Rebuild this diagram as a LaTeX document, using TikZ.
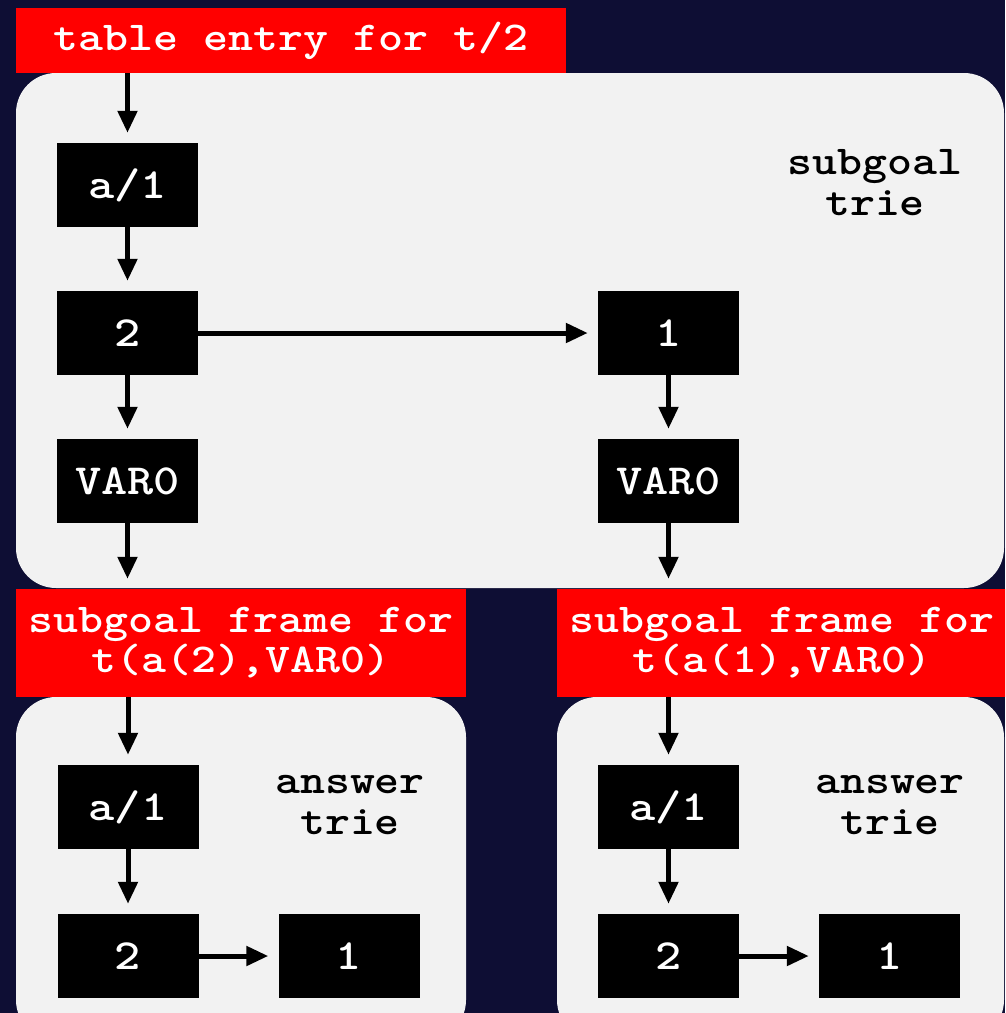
\documentclass[tikz,border=0pt]{standalone}
\usepackage{fontspec}
% Courier-like slab-serif typewriter face, widened to the 0.6em pitch
\newfontfamily\codefont[Extension=.otf, FakeStretch=1.16]{lmmonolt10-bold}
\usetikzlibrary{arrows.meta}
\definecolor{navy}{RGB}{14,14,52}
\definecolor{panel}{RGB}{242,242,242}
\tikzset{
  trienode/.style={fill=black, text=white, minimum width=141pt, minimum height=84pt,
    inner sep=0pt, font=\fontsize{43}{43}\selectfont\codefont},
  banner/.style={fill=red, text=white, inner sep=0pt, align=center,
    font=\fontsize{41}{40}\selectfont\codefont},
  caption/.style={text=black, inner sep=0pt, align=center,
    font=\fontsize{41}{41}\selectfont\codefont},
  link/.style={line width=5pt, -{Triangle[length=22pt,width=19pt]}, shorten >=10pt},
  panelbox/.style={fill=panel, rounded corners=40pt}
}
\begin{document}
\begin{tikzpicture}[x=1pt, y=-1pt]
  % canvas
  \fill[navy] (0,0) rectangle (1005,1013);
  \useasboundingbox (0,0) rectangle (1005,1013);
  \clip (0,0) rectangle (1005,1013);

  % trie panels
  \path[panelbox] (16,73) rectangle (1004,588);
  \path[panelbox] (16,697) rectangle (466,1040);
  \path[panelbox] (557,697) rectangle (1004,1040);

  % headers
  \node[banner, minimum width=550pt, minimum height=65pt] (top) at (291,40.5) {table entry for t/2};
  \node[banner, minimum width=450pt, minimum height=108pt] (lban) at (241,643) {subgoal frame for\\t(a(2),VAR0)};
  \node[banner, minimum width=450pt, minimum height=108pt] (rban) at (782,643) {subgoal frame for\\t(a(1),VAR0)};

  % panel captions
  \node[caption] (stcap) at (875,183) {subgoal\\trie};
  \node[caption] (lacap) at (350,805) {answer\\trie};
  \node[caption] (racap) at (890,805) {answer\\trie};

  % subgoal trie
  \node[trienode] (sa1) at (127.5,185) {a/1};
  \node[trienode] (s2)  at (127.5,333) {2};
  \node[trienode] (sv0) at (127.5,481) {VAR0};
  \node[trienode] (s1)  at (668.5,333) {1};
  \node[trienode] (sv1) at (668.5,481) {VAR0};

  % answer trie for t(a(2),VAR0)
  \node[trienode] (la1) at (128,807) {a/1};
  \node[trienode] (l2)  at (128,956) {2};
  \node[trienode] (l1)  at (349,956) {1};

  % answer trie for t(a(1),VAR0)
  \node[trienode] (ra1) at (668.5,807) {a/1};
  \node[trienode] (r2)  at (668.5,956) {2};
  \node[trienode] (r1)  at (889.5,956) {1};

  % connectors
  \draw[link] (top.south -| sa1) -- (sa1);
  \draw[link] (sa1) -- (s2);
  \draw[link] (s2) -- (sv0);
  \draw[link] (s2) -- (s1);
  \draw[link] (s1) -- (sv1);
  \draw[link] (sv0) -- (sv0 |- lban.north);
  \draw[link] (sv1) -- (sv1 |- rban.north);

  \draw[link] (lban.south -| la1) -- (la1);
  \draw[link] (la1) -- (l2);
  \draw[link] (l2) -- (l1);

  \draw[link] (rban.south -| ra1) -- (ra1);
  \draw[link] (ra1) -- (r2);
  \draw[link] (r2) -- (r1);
\end{tikzpicture}
\end{document}
